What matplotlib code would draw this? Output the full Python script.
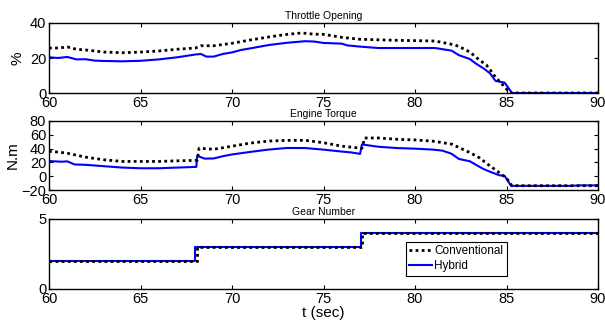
import numpy as np
import matplotlib
matplotlib.use('Agg')
import matplotlib.pyplot as plt

plt.rcParams['font.family'] = ['Liberation Sans', 'DejaVu Sans']

# throttle opening (%)
thr_conv_t = [60, 60.5, 61, 61.5, 62, 63, 64, 65, 66, 67, 68, 68.3, 69, 70, 71, 72, 73, 73.8,
              74.5, 75, 76, 77, 79, 81.1, 82.2, 82.8, 83.1, 83.5, 83.9, 84.2, 84.4, 84.8, 85.2, 90]
thr_conv = [25.7, 25.7, 26.3, 25.0, 24.6, 23.4, 23.0, 23.4, 24.0, 25.0, 25.7, 27.0, 27.0, 28.4,
            30.3, 32.0, 33.5, 34.3, 33.6, 33.5, 31.8, 30.7, 30.1, 29.7, 27.4, 24.6, 22.5, 19.0,
            16.0, 12.0, 9.0, 4.6, 0, 0]
thr_hyb_t = [60, 60.5, 61, 61.5, 62, 62.5, 63, 64, 65, 66, 67, 68, 68.3, 68.6, 69, 69.5, 70,
             70.5, 71, 72, 73, 74, 74.5, 75, 76, 76.3, 77, 78, 81.1, 82, 82.4, 83, 83.3, 83.8,
             84.1, 84.4, 84.9, 85.3, 90]
thr_hyb = [20.4, 20.0, 20.6, 19.2, 19.3, 18.5, 18.3, 18.1, 18.4, 19.2, 20.4, 22.0, 22.3, 20.8,
           20.8, 22.3, 23.2, 24.6, 25.5, 27.4, 28.7, 29.6, 29.4, 28.6, 28.2, 27.2, 26.5, 25.7,
           25.7, 24.2, 21.6, 19.4, 17.0, 13.7, 11.2, 6.9, 5.9, 0, 0]

# engine torque (N.m)
trq_conv_t = [60, 60.5, 61, 62, 63, 64, 66, 67, 68.1, 68.2, 68.5, 69, 70, 71, 72, 73, 74, 75,
              76, 77.1, 77.25, 78, 79, 80, 81, 82, 83, 83.5, 84, 84.6, 85, 85.3, 90]
trq_conv = [36, 35, 33.3, 27.6, 23.8, 21.4, 21.4, 22.3, 23, 40.4, 40, 39, 43.5, 48, 50.9, 51.9,
            52, 48.5, 43.5, 40.4, 55.4, 55.4, 53.5, 52.6, 50.7, 46.5, 34.2, 27, 16.9, 5.2,
            -2.8, -13.8, -13.8]
trq_hyb_t = [60, 60.7, 61, 61.4, 62, 63, 64, 65, 66, 67, 68.05, 68.1, 68.5, 69, 69.5, 70, 71,
             72, 73, 74, 75, 76, 76.5, 77.0, 77.1, 78, 79, 80, 81, 81.5, 82, 82.4, 83, 83.3,
             83.7, 84, 84.6, 84.9, 85.25, 88.5, 89, 90]
trq_hyb = [21.9, 21.0, 21.5, 17, 16.5, 14.5, 12.5, 11.5, 11.5, 12.5, 13.5, 29.5, 25.5, 25.7,
           29, 31.5, 35.2, 38.6, 40.9, 40.8, 38.5, 35.7, 34.5, 32.4, 46, 42.7, 40.8, 39.9,
           38.5, 37, 32.5, 25, 21.6, 17, 11, 7.5, 1.4, 0.4, -14, -14, -13.3, -13.3]

# gear number
gear_conv_t = [60, 68.1, 77.1, 90]
gear_conv = [2, 3, 4, 4]
gear_hyb_t = [60, 68.0, 77.05, 90]
gear_hyb = [2, 3, 4, 4]

fig = plt.figure(figsize=(6.05, 3.25), dpi=100)
left, width = 49 / 605, 549 / 605
ax1 = fig.add_axes([left, 1 - 93 / 325, width, 70 / 325])
ax2 = fig.add_axes([left, 1 - 190 / 325, width, 69 / 325])
ax3 = fig.add_axes([left, 1 - 289 / 325, width, 70 / 325])

dot = dict(color='k', lw=2.0, linestyle=(0, (1, 1.2)), zorder=3)
sol = dict(color='#0000ff', lw=1.5, zorder=2)

ax1.plot(thr_hyb_t, thr_hyb, **sol)
ax1.plot(thr_conv_t, thr_conv, **dot)
ax1.set_ylim(0, 40)
ax1.set_yticks([0, 20, 40])
ax1.set_ylabel('%', fontsize=11, labelpad=4)
ax1.set_title('Throttle Opening', fontsize=7.5, pad=3)

ax2.plot(trq_hyb_t, trq_hyb, **sol)
ax2.plot(trq_conv_t, trq_conv, **dot)
ax2.set_ylim(-20, 80)
ax2.set_yticks(np.arange(-20, 81, 20))
ax2.set_ylabel('N.m', fontsize=11, labelpad=1)
ax2.set_title('Engine Torque', fontsize=7.5, pad=3)

h_hyb, = ax3.plot(gear_hyb_t, gear_hyb, drawstyle='steps-post', **sol)
h_conv, = ax3.plot(gear_conv_t, gear_conv, drawstyle='steps-post', **dot)
ax3.set_ylim(0, 5)
ax3.set_yticks([0, 5])
ax3.set_title('Gear Number', fontsize=7.5, pad=3)
ax3.set_xlabel('t (sec)', fontsize=11, labelpad=0)
leg = ax3.legend([h_conv, h_hyb], ['Conventional', 'Hybrid'], loc='lower left',
                 bbox_to_anchor=(0.65, 0.19), fontsize=8.5, fancybox=False,
                 framealpha=1, edgecolor='k', handlelength=1.9, handletextpad=0.2,
                 borderpad=0.3, labelspacing=0.25, borderaxespad=0)
leg.get_frame().set_linewidth(0.8)

for ax in (ax1, ax2, ax3):
    ax.set_xlim(60, 90)
    ax.set_xticks(np.arange(60, 91, 5))
    ax.tick_params(direction='in', top=True, right=True, length=3, width=0.8,
                   labelsize=10.5, pad=2)
    for s in ax.spines.values():
        s.set_linewidth(1.0)

fig.savefig('out.png', dpi=100)
